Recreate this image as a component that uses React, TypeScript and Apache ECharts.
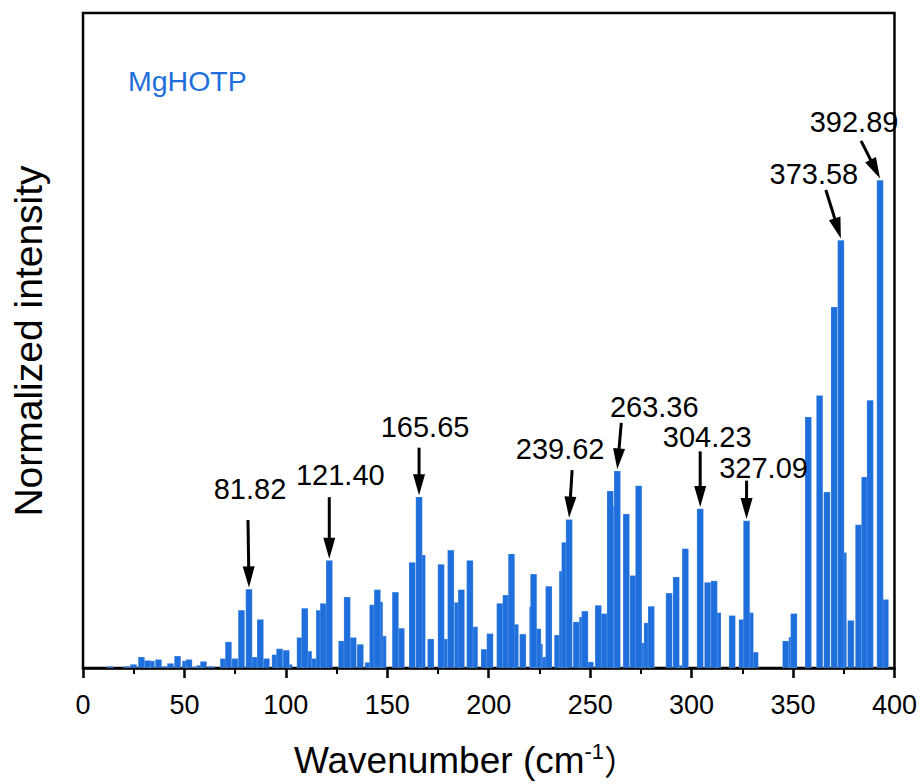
import React, { useEffect, useRef } from "react";
import * as echarts from "echarts";

// ---- data ----
const wavenumbers = [
  13.3, 21.4, 24.9, 28.8, 31.8, 33.7, 37.2, 40.6, 43.1, 46.6,
  50.5, 52.2, 55.4, 57.5, 59.4, 63.2, 69.2, 71.7, 74.9, 78.1,
  81.82, 84.7, 87.4, 90.4, 94.7, 96.9, 100.2, 101.6, 107.0, 109.3,
  111.2, 114.2, 116.5, 118.5, 121.4, 127.5, 130.2, 133.2, 136.7, 140.6,
  142.8, 145.1, 146.2, 147.9, 154.0, 156.9, 162.3, 165.65, 167.2, 171.4,
  176.5, 178.2, 181.3, 184.6, 186.5, 190.7, 193.0, 197.8, 200.6, 205.5,
  208.5, 211.2, 213.1, 216.8, 221.6, 222.1, 224.2, 225.0, 227.3, 229.6,
  233.9, 236.3, 237.5, 239.62, 243.2, 246.2, 247.4, 250.1, 254.0, 256.9,
  259.9, 261.5, 263.36, 267.8, 271.2, 273.9, 275.6, 278.1, 280.1, 288.9,
  292.4, 294.5, 296.9, 304.23, 307.9, 311.1, 312.9, 320.0, 324.9, 327.09,
  328.9, 331.3, 346.4, 349.5, 350.4, 357.5, 363.1, 366.7, 370.3, 373.58,
  374.8, 378.5, 382.3, 385.3, 388.0, 392.89, 395.5,
];
const intensities = [
  0.004, 0.004, 0.008, 0.023, 0.016, 0.015, 0.018, 0.004, 0.010, 0.025,
  0.015, 0.018, 0.003, 0.006, 0.014, 0.004, 0.020, 0.054, 0.020, 0.119,
  0.162, 0.023, 0.100, 0.020, 0.028, 0.040, 0.037, 0.008, 0.063, 0.123,
  0.035, 0.020, 0.119, 0.133, 0.221, 0.056, 0.146, 0.063, 0.049, 0.012,
  0.130, 0.161, 0.136, 0.066, 0.156, 0.082, 0.217, 0.351, 0.232, 0.060,
  0.213, 0.060, 0.242, 0.135, 0.161, 0.221, 0.085, 0.039, 0.071, 0.133,
  0.150, 0.234, 0.090, 0.070, 0.126, 0.193, 0.081, 0.050, 0.023, 0.168,
  0.068, 0.199, 0.258, 0.305, 0.095, 0.105, 0.117, 0.013, 0.129, 0.112,
  0.363, 0.333, 0.404, 0.316, 0.190, 0.374, 0.052, 0.093, 0.127, 0.154,
  0.187, 0.006, 0.245, 0.327, 0.176, 0.179, 0.114, 0.108, 0.100, 0.302,
  0.114, 0.033, 0.056, 0.064, 0.112, 0.515, 0.559, 0.361, 0.740, 0.877,
  0.237, 0.098, 0.294, 0.392, 0.549, 1.000, 0.141,
];

const peakWavenumbers = [81.82, 121.4, 165.65, 239.62, 263.36, 304.23, 327.09, 373.58, 392.89];
const peakIntensities = [0.162, 0.221, 0.351, 0.305, 0.404, 0.327, 0.302, 0.877, 1.0];
const peakLabels = ["81.82", "121.40", "165.65", "239.62", "263.36", "304.23", "327.09", "373.58", "392.89"];

const sampleName = "MgHOTP";
const xMin = 0;
const xMax = 400;
const xInterval = 50;
const yMax = 1.342;

// ---- annotation layout (pixel offsets from the arrow tip) ----
const LABEL_OFFSETS = [
  [1, -100], [11, -85], [6, -70], [-9, -70], [37, -64], [7, -71], [17, -53], [-27, -66], [-26, -58],
];
const TAIL_OFFSETS = [
  [-1, -69], [0, -63], [0, -49], [3, -49], [4, -48], [0, -57], [0, -40], [-15, -50], [-19, -39],
];

const FONT = '"Liberation Sans", Arial, Helvetica, sans-serif';
const BLUE = "#1E6FDC";

export default function App() {
  const ref = useRef<HTMLDivElement>(null);

  useEffect(() => {
    if (!ref.current) return;
    const chart = echarts.init(ref.current, undefined, { renderer: "svg" });

    // draw short bars first so taller bars sit on top
    const order = intensities.map((_, i) => i).sort((a, b) => intensities[a] - intensities[b]);
    const barData = order.map((i) => [wavenumbers[i], intensities[i]]);
    const peakData = peakWavenumbers.map((w, i) => [w, peakIntensities[i]]);

    chart.setOption({
      animation: false,
      grid: {
        left: 83,
        right: 25,
        top: 13,
        bottom: 116,
        show: true,
        borderColor: "#000",
        borderWidth: 2.5,
        backgroundColor: "transparent",
      },
      xAxis: {
        type: "value",
        min: xMin,
        max: xMax,
        interval: xInterval,
        axisLine: { show: true, lineStyle: { color: "#000", width: 2.5 } },
        axisTick: { show: true, length: 10, lineStyle: { color: "#000", width: 2.5 } },
        minorTick: { show: true, splitNumber: 2, length: 6, lineStyle: { color: "#000", width: 2 } },
        splitLine: { show: false },
        axisLabel: { color: "#000", fontSize: 27, fontFamily: FONT, margin: 23 },
      },
      yAxis: {
        type: "value",
        min: 0,
        max: yMax,
        axisLine: { show: false },
        axisTick: { show: false },
        axisLabel: { show: false },
        splitLine: { show: false },
      },
      series: [
        {
          type: "bar",
          data: barData,
          barWidth: 7,
          itemStyle: { color: BLUE, borderColor: "rgba(255,255,255,0.35)", borderWidth: 0.5 },
          z: 2,
        },
        {
          type: "custom",
          data: peakData,
          z: 5,
          clip: false,
          renderItem: (params: any, api: any) => {
            const i = params.dataIndex;
            const p = api.coord([api.value(0), api.value(1)]);
            const tip = [p[0], p[1] - 1.5];
            const tail = [p[0] + TAIL_OFFSETS[i][0], p[1] + TAIL_OFFSETS[i][1]];
            const dx = tip[0] - tail[0];
            const dy = tip[1] - tail[1];
            const len = Math.hypot(dx, dy);
            const ux = dx / len;
            const uy = dy / len;
            const headLen = 21;
            const headHalf = 6;
            const bx = tip[0] - ux * headLen;
            const by = tip[1] - uy * headLen;
            const nx = -uy;
            const ny = ux;
            return {
              type: "group",
              children: [
                {
                  type: "line",
                  shape: { x1: tail[0], y1: tail[1], x2: bx + ux * 2, y2: by + uy * 2 },
                  style: { stroke: "#000", lineWidth: 3 },
                },
                {
                  type: "polygon",
                  shape: {
                    points: [
                      [tip[0], tip[1]],
                      [bx + nx * headHalf, by + ny * headHalf],
                      [bx - nx * headHalf, by - ny * headHalf],
                    ],
                  },
                  style: { fill: "#000" },
                },
                {
                  type: "text",
                  x: p[0] + LABEL_OFFSETS[i][0],
                  y: p[1] + LABEL_OFFSETS[i][1],
                  style: {
                    text: peakLabels[i],
                    fill: "#000",
                    fontSize: 29,
                    fontFamily: FONT,
                    align: "center",
                    verticalAlign: "middle",
                  },
                },
              ],
            };
          },
        },
      ],
      graphic: [
        {
          type: "text",
          left: 128,
          top: 66,
          style: { text: sampleName, fill: BLUE, fontSize: 28.5, fontFamily: FONT },
        },
        {
          type: "text",
          x: 28,
          y: 341,
          rotation: Math.PI / 2,
          style: {
            text: "Normalized intensity",
            fill: "#000",
            fontSize: 39,
            fontFamily: FONT,
            align: "center",
            verticalAlign: "middle",
          },
        },
        {
          type: "text",
          x: 466,
          y: 760,
          style: {
            text: "{a|Wavenumber (cm}{s|-1}{c|）}",
            fill: "#000",
            align: "center",
            verticalAlign: "middle",
            rich: {
              a: { fontSize: 37, fontFamily: FONT, lineHeight: 44, verticalAlign: "middle", fill: "#000" },
              s: { fontSize: 22, fontFamily: FONT, lineHeight: 44, verticalAlign: "top", fill: "#000", padding: [2, 0, 0, 0] },
              c: { fontSize: 34, fontFamily: '"Noto Sans CJK SC", ' + FONT, lineHeight: 44, verticalAlign: "middle", fill: "#000" },
            },
          },
        },
      ],
    });

    return () => chart.dispose();
  }, []);

  return (
    <div
      ref={ref}
      style={{ position: "absolute", left: 0, top: 0, width: 920, height: 784, background: "#fff" }}
    />
  );
}
